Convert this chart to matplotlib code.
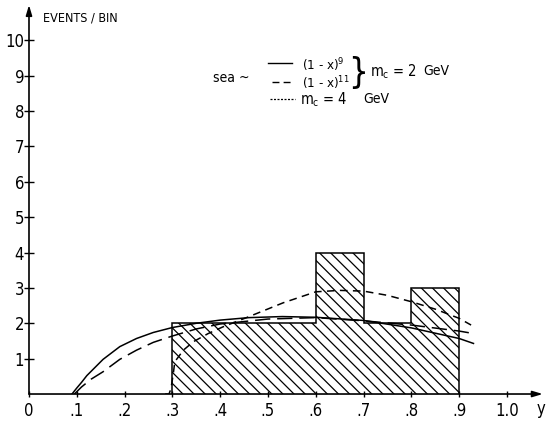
import numpy as np
import matplotlib.pyplot as plt

plt.rcParams['font.family'] = ['DejaVu Sans']
plt.rcParams['font.stretch'] = 'condensed'
plt.rcParams['mathtext.default'] = 'regular'
plt.rcParams['hatch.linewidth'] = 0.9

# histogram of events
edges = [0.3, 0.6, 0.7, 0.8, 0.9]
counts = [2, 4, 2, 3]

# sea ~ (1-x)^9, m_c = 2 GeV
solid_x = [0.09, 0.10, 0.11, 0.121, 0.155, 0.19, 0.225, 0.26, 0.30, 0.35, 0.40,
           0.46, 0.53, 0.60, 0.70, 0.80, 0.90, 0.93]
solid_y = [0.0, 0.17, 0.33, 0.52, 0.98, 1.34, 1.57, 1.74, 1.88, 2.00, 2.09,
           2.16, 2.19, 2.17, 2.08, 1.87, 1.57, 1.43]

# sea ~ (1-x)^11, m_c = 2 GeV
long_x = [0.095, 0.11, 0.13, 0.155, 0.19, 0.225, 0.26, 0.30, 0.35, 0.40, 0.50,
          0.60, 0.70, 0.80, 0.90, 0.93]
long_y = [0.0, 0.2, 0.42, 0.63, 0.98, 1.24, 1.46, 1.64, 1.84, 1.98, 2.12,
          2.16, 2.07, 1.95, 1.78, 1.71]

# m_c = 4 GeV
short_x = [0.285, 0.293, 0.297, 0.302, 0.305, 0.323, 0.344, 0.375, 0.406, 0.455,
           0.532, 0.60, 0.65, 0.70, 0.75, 0.80, 0.85, 0.90, 0.925]
short_y = [0.0, 0.0, 0.15, 0.58, 0.91, 1.24, 1.48, 1.71, 1.90, 2.16,
           2.58, 2.89, 2.93, 2.91, 2.79, 2.61, 2.40, 2.14, 1.95]

xticks = [0, 0.1, 0.2, 0.3, 0.4, 0.5, 0.6, 0.7, 0.8, 0.9, 1.0]
xlabels = ['0', '.1', '.2', '.3', '.4', '.5', '.6', '.7', '.8', '.9', '1.0']
yticks = [1, 2, 3, 4, 5, 6, 7, 8, 9, 10]

fig = plt.figure(figsize=(5.46, 4.21), dpi=100)
ax = fig.add_axes([0.0531, 0.0641, 0.941, 0.924])
ax.set_xlim(0, 1.075)
ax.set_ylim(0, 11.0)

for s in ['top', 'right', 'left', 'bottom']:
    ax.spines[s].set_visible(False)

# axes with arrows
ax.annotate('', xy=(1.075, 0), xytext=(0, 0),
            arrowprops=dict(arrowstyle='-|>,head_length=0.6,head_width=0.18',
                            color='black', lw=1.2, shrinkA=0, shrinkB=0),
            annotation_clip=False)
ax.annotate('', xy=(0, 11.0), xytext=(0, 0),
            arrowprops=dict(arrowstyle='-|>,head_length=0.6,head_width=0.18',
                            color='black', lw=1.2, shrinkA=0, shrinkB=0),
            annotation_clip=False)

ax.stairs(counts, edges, fill=True, facecolor='none', edgecolor='black',
          hatch='\\\\\\', lw=1.1, baseline=0)

ax.plot(solid_x, solid_y, color='black', lw=1.1)
ax.plot(long_x, long_y, color='black', lw=1.1, dashes=(10, 4.5))
ax.plot(short_x, short_y, color='black', lw=1.1, dashes=(5, 3.5))

ax.set_xticks(xticks)
ax.set_xticklabels(xlabels)
ax.set_yticks(yticks)
ax.tick_params(axis='y', direction='inout', length=7, width=1.0, labelsize=12, pad=0)
ax.tick_params(axis='x', direction='inout', length=5, width=1.0, labelsize=12, pad=3)

ax.text(1.071, -0.42, 'y', fontsize=12, ha='center', va='center', clip_on=False)
ax.text(0.029, 10.64, 'EVENTS / BIN', fontsize=9, ha='left', va='center')

# legend drawn by hand
ax.text(0.385, 8.95, 'sea ~', fontsize=10, ha='left', va='center')
ax.plot([0.50, 0.55], [9.37, 9.37], color='black', lw=1.0)
ax.text(0.571, 9.30, '(1 - x)$^9$', fontsize=9.5, ha='left', va='center')
ax.plot([0.508, 0.55], [8.82, 8.82], color='black', lw=1.0, dashes=(5, 3))
ax.text(0.571, 8.80, '(1 - x)$^{11}$', fontsize=9.5, ha='left', va='center')
ax.text(0.688, 9.08, '}', fontsize=25, fontweight='light', ha='center', va='center')
ax.text(0.713, 9.12, 'm$_c$ = 2', fontsize=10.5, ha='left', va='center')
ax.text(0.825, 9.14, 'GeV', fontsize=10, ha='left', va='center')
ax.plot([0.504, 0.556], [8.35, 8.35], color='black', lw=0.9, dashes=(1.6, 1.2))
ax.text(0.567, 8.33, 'm$_c$ = 4', fontsize=10.5, ha='left', va='center')
ax.text(0.699, 8.35, 'GeV', fontsize=10, ha='left', va='center')

fig.savefig('out.png', dpi=100)
